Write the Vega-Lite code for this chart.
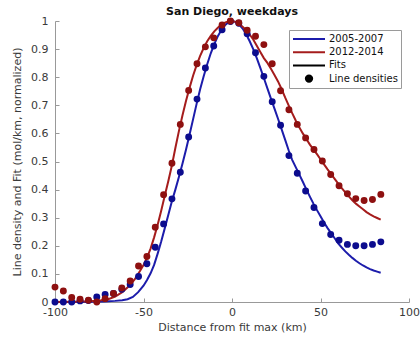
{
  "$schema": "https://vega.github.io/schema/vega-lite/v6.json",
  "width": 354,
  "height": 281,
  "autosize": "none",
  "padding": {"left": 55, "top": 21, "right": 11, "bottom": 38},
  "background": "white",
  "config": {
    "font": "DejaVu Sans",
    "view": {"stroke": null},
    "axis": {
      "grid": false,
      "domainColor": "#999999",
      "tickColor": "#999999",
      "tickSize": -4,
      "labelColor": "#3a3a3a",
      "titleColor": "#3a3a3a",
      "labelFontSize": 11,
      "titleFontSize": 11,
      "titleFontWeight": "normal",
      "labelFont": "DejaVu Sans",
      "titleFont": "DejaVu Sans",
      "labelFlush": false,
      "labelOverlap": false
    }
  },
  "title": {"text": "San Diego, weekdays", "fontSize": 11, "fontWeight": "bold", "color": "#111111", "font": "DejaVu Sans", "offset": -2},
  "datasets": {
    "fits": [
      {"series": "2005-2007", "km": -100, "value": 0},
      {"series": "2005-2007", "km": -90, "value": 0},
      {"series": "2005-2007", "km": -80, "value": 0.001},
      {"series": "2005-2007", "km": -72, "value": 0.002},
      {"series": "2005-2007", "km": -66, "value": 0.004},
      {"series": "2005-2007", "km": -62, "value": 0.006},
      {"series": "2005-2007", "km": -59, "value": 0.01},
      {"series": "2005-2007", "km": -56, "value": 0.018},
      {"series": "2005-2007", "km": -53, "value": 0.035},
      {"series": "2005-2007", "km": -50, "value": 0.058},
      {"series": "2005-2007", "km": -48, "value": 0.078},
      {"series": "2005-2007", "km": -46, "value": 0.102},
      {"series": "2005-2007", "km": -44, "value": 0.132},
      {"series": "2005-2007", "km": -42, "value": 0.172},
      {"series": "2005-2007", "km": -40, "value": 0.215},
      {"series": "2005-2007", "km": -38, "value": 0.262},
      {"series": "2005-2007", "km": -36, "value": 0.31},
      {"series": "2005-2007", "km": -34, "value": 0.358},
      {"series": "2005-2007", "km": -32, "value": 0.4},
      {"series": "2005-2007", "km": -30, "value": 0.445},
      {"series": "2005-2007", "km": -28, "value": 0.492},
      {"series": "2005-2007", "km": -26, "value": 0.542},
      {"series": "2005-2007", "km": -24, "value": 0.595},
      {"series": "2005-2007", "km": -22, "value": 0.65},
      {"series": "2005-2007", "km": -20, "value": 0.705},
      {"series": "2005-2007", "km": -18, "value": 0.757},
      {"series": "2005-2007", "km": -16, "value": 0.803},
      {"series": "2005-2007", "km": -14, "value": 0.846},
      {"series": "2005-2007", "km": -12, "value": 0.885},
      {"series": "2005-2007", "km": -10, "value": 0.918},
      {"series": "2005-2007", "km": -8, "value": 0.946},
      {"series": "2005-2007", "km": -6, "value": 0.968},
      {"series": "2005-2007", "km": -4, "value": 0.985},
      {"series": "2005-2007", "km": -2, "value": 0.996},
      {"series": "2005-2007", "km": 0, "value": 1.0},
      {"series": "2005-2007", "km": 2, "value": 0.997},
      {"series": "2005-2007", "km": 4, "value": 0.988},
      {"series": "2005-2007", "km": 6, "value": 0.973},
      {"series": "2005-2007", "km": 8, "value": 0.953},
      {"series": "2005-2007", "km": 10, "value": 0.928},
      {"series": "2005-2007", "km": 12, "value": 0.9},
      {"series": "2005-2007", "km": 14, "value": 0.868},
      {"series": "2005-2007", "km": 16, "value": 0.833},
      {"series": "2005-2007", "km": 18, "value": 0.797},
      {"series": "2005-2007", "km": 20, "value": 0.76},
      {"series": "2005-2007", "km": 22, "value": 0.724},
      {"series": "2005-2007", "km": 24, "value": 0.688},
      {"series": "2005-2007", "km": 26, "value": 0.652},
      {"series": "2005-2007", "km": 28, "value": 0.615},
      {"series": "2005-2007", "km": 30, "value": 0.578},
      {"series": "2005-2007", "km": 32, "value": 0.54},
      {"series": "2005-2007", "km": 34, "value": 0.506},
      {"series": "2005-2007", "km": 36, "value": 0.48},
      {"series": "2005-2007", "km": 38, "value": 0.454},
      {"series": "2005-2007", "km": 40, "value": 0.428},
      {"series": "2005-2007", "km": 42, "value": 0.401},
      {"series": "2005-2007", "km": 44, "value": 0.375},
      {"series": "2005-2007", "km": 46, "value": 0.35},
      {"series": "2005-2007", "km": 48, "value": 0.327},
      {"series": "2005-2007", "km": 50, "value": 0.305},
      {"series": "2005-2007", "km": 52, "value": 0.283},
      {"series": "2005-2007", "km": 54, "value": 0.263},
      {"series": "2005-2007", "km": 56, "value": 0.245},
      {"series": "2005-2007", "km": 58, "value": 0.227},
      {"series": "2005-2007", "km": 60, "value": 0.209},
      {"series": "2005-2007", "km": 62, "value": 0.194},
      {"series": "2005-2007", "km": 64, "value": 0.18},
      {"series": "2005-2007", "km": 66, "value": 0.168},
      {"series": "2005-2007", "km": 68, "value": 0.157},
      {"series": "2005-2007", "km": 70, "value": 0.147},
      {"series": "2005-2007", "km": 72, "value": 0.138},
      {"series": "2005-2007", "km": 74, "value": 0.13},
      {"series": "2005-2007", "km": 76, "value": 0.123},
      {"series": "2005-2007", "km": 78, "value": 0.117},
      {"series": "2005-2007", "km": 80, "value": 0.112},
      {"series": "2005-2007", "km": 82, "value": 0.108},
      {"series": "2005-2007", "km": 84, "value": 0.104},
      {"series": "2012-2014", "km": -100, "value": 0},
      {"series": "2012-2014", "km": -90, "value": 0.001},
      {"series": "2012-2014", "km": -80, "value": 0.003},
      {"series": "2012-2014", "km": -74, "value": 0.006},
      {"series": "2012-2014", "km": -70, "value": 0.01},
      {"series": "2012-2014", "km": -66, "value": 0.019},
      {"series": "2012-2014", "km": -62, "value": 0.035},
      {"series": "2012-2014", "km": -58, "value": 0.058},
      {"series": "2012-2014", "km": -55, "value": 0.08},
      {"series": "2012-2014", "km": -52, "value": 0.11},
      {"series": "2012-2014", "km": -50, "value": 0.132},
      {"series": "2012-2014", "km": -48, "value": 0.158},
      {"series": "2012-2014", "km": -46, "value": 0.19},
      {"series": "2012-2014", "km": -44, "value": 0.23},
      {"series": "2012-2014", "km": -42, "value": 0.275},
      {"series": "2012-2014", "km": -40, "value": 0.325},
      {"series": "2012-2014", "km": -38, "value": 0.378},
      {"series": "2012-2014", "km": -36, "value": 0.43},
      {"series": "2012-2014", "km": -34, "value": 0.485},
      {"series": "2012-2014", "km": -32, "value": 0.548},
      {"series": "2012-2014", "km": -30, "value": 0.608},
      {"series": "2012-2014", "km": -28, "value": 0.664},
      {"series": "2012-2014", "km": -26, "value": 0.715},
      {"series": "2012-2014", "km": -24, "value": 0.762},
      {"series": "2012-2014", "km": -22, "value": 0.805},
      {"series": "2012-2014", "km": -20, "value": 0.843},
      {"series": "2012-2014", "km": -18, "value": 0.876},
      {"series": "2012-2014", "km": -16, "value": 0.904},
      {"series": "2012-2014", "km": -14, "value": 0.928},
      {"series": "2012-2014", "km": -12, "value": 0.947},
      {"series": "2012-2014", "km": -10, "value": 0.963},
      {"series": "2012-2014", "km": -8, "value": 0.976},
      {"series": "2012-2014", "km": -6, "value": 0.987},
      {"series": "2012-2014", "km": -4, "value": 0.994},
      {"series": "2012-2014", "km": -2, "value": 0.999},
      {"series": "2012-2014", "km": 0, "value": 1.0},
      {"series": "2012-2014", "km": 2, "value": 0.997},
      {"series": "2012-2014", "km": 4, "value": 0.99},
      {"series": "2012-2014", "km": 6, "value": 0.98},
      {"series": "2012-2014", "km": 8, "value": 0.967},
      {"series": "2012-2014", "km": 10, "value": 0.952},
      {"series": "2012-2014", "km": 12, "value": 0.934},
      {"series": "2012-2014", "km": 14, "value": 0.912},
      {"series": "2012-2014", "km": 16, "value": 0.89},
      {"series": "2012-2014", "km": 18, "value": 0.868},
      {"series": "2012-2014", "km": 20, "value": 0.851},
      {"series": "2012-2014", "km": 22, "value": 0.83},
      {"series": "2012-2014", "km": 24, "value": 0.808},
      {"series": "2012-2014", "km": 26, "value": 0.785},
      {"series": "2012-2014", "km": 28, "value": 0.758},
      {"series": "2012-2014", "km": 30, "value": 0.728},
      {"series": "2012-2014", "km": 32, "value": 0.7},
      {"series": "2012-2014", "km": 34, "value": 0.672},
      {"series": "2012-2014", "km": 36, "value": 0.646},
      {"series": "2012-2014", "km": 38, "value": 0.622},
      {"series": "2012-2014", "km": 40, "value": 0.6},
      {"series": "2012-2014", "km": 42, "value": 0.58},
      {"series": "2012-2014", "km": 44, "value": 0.56},
      {"series": "2012-2014", "km": 46, "value": 0.543},
      {"series": "2012-2014", "km": 48, "value": 0.526},
      {"series": "2012-2014", "km": 50, "value": 0.508},
      {"series": "2012-2014", "km": 52, "value": 0.49},
      {"series": "2012-2014", "km": 54, "value": 0.472},
      {"series": "2012-2014", "km": 56, "value": 0.455},
      {"series": "2012-2014", "km": 58, "value": 0.438},
      {"series": "2012-2014", "km": 60, "value": 0.421},
      {"series": "2012-2014", "km": 62, "value": 0.405},
      {"series": "2012-2014", "km": 64, "value": 0.39},
      {"series": "2012-2014", "km": 66, "value": 0.376},
      {"series": "2012-2014", "km": 68, "value": 0.362},
      {"series": "2012-2014", "km": 70, "value": 0.35},
      {"series": "2012-2014", "km": 72, "value": 0.34},
      {"series": "2012-2014", "km": 74, "value": 0.33},
      {"series": "2012-2014", "km": 76, "value": 0.32},
      {"series": "2012-2014", "km": 78, "value": 0.312},
      {"series": "2012-2014", "km": 80, "value": 0.305},
      {"series": "2012-2014", "km": 82, "value": 0.299},
      {"series": "2012-2014", "km": 84, "value": 0.293}
    ],
    "dens": [
      {"series": "2005-2007", "km": -100, "value": 0},
      {"series": "2005-2007", "km": -95.28, "value": 0},
      {"series": "2005-2007", "km": -90.56, "value": 0},
      {"series": "2005-2007", "km": -85.84, "value": 0.004},
      {"series": "2005-2007", "km": -81.12, "value": 0.005},
      {"series": "2005-2007", "km": -76.4, "value": 0.018},
      {"series": "2005-2007", "km": -71.68, "value": 0.027},
      {"series": "2005-2007", "km": -66.96, "value": 0.03},
      {"series": "2005-2007", "km": -62.24, "value": 0.045},
      {"series": "2005-2007", "km": -57.52, "value": 0.062},
      {"series": "2005-2007", "km": -52.8, "value": 0.091},
      {"series": "2005-2007", "km": -48.08, "value": 0.136},
      {"series": "2005-2007", "km": -43.36, "value": 0.195},
      {"series": "2005-2007", "km": -38.64, "value": 0.278},
      {"series": "2005-2007", "km": -33.92, "value": 0.367},
      {"series": "2005-2007", "km": -29.2, "value": 0.462},
      {"series": "2005-2007", "km": -24.48, "value": 0.587},
      {"series": "2005-2007", "km": -19.76, "value": 0.722},
      {"series": "2005-2007", "km": -15.04, "value": 0.833},
      {"series": "2005-2007", "km": -10.32, "value": 0.911},
      {"series": "2005-2007", "km": -5.6, "value": 0.969},
      {"series": "2005-2007", "km": -0.88, "value": 0.998},
      {"series": "2005-2007", "km": 3.84, "value": 0.992},
      {"series": "2005-2007", "km": 8.56, "value": 0.955},
      {"series": "2005-2007", "km": 13.28, "value": 0.887},
      {"series": "2005-2007", "km": 18.0, "value": 0.803},
      {"series": "2005-2007", "km": 22.72, "value": 0.713},
      {"series": "2005-2007", "km": 27.44, "value": 0.629},
      {"series": "2005-2007", "km": 32.16, "value": 0.521},
      {"series": "2005-2007", "km": 36.88, "value": 0.458},
      {"series": "2005-2007", "km": 41.6, "value": 0.395},
      {"series": "2005-2007", "km": 46.32, "value": 0.336},
      {"series": "2005-2007", "km": 51.04, "value": 0.279},
      {"series": "2005-2007", "km": 55.76, "value": 0.24},
      {"series": "2005-2007", "km": 60.48, "value": 0.22},
      {"series": "2005-2007", "km": 65.2, "value": 0.205},
      {"series": "2005-2007", "km": 69.92, "value": 0.2},
      {"series": "2005-2007", "km": 74.64, "value": 0.2},
      {"series": "2005-2007", "km": 79.36, "value": 0.205},
      {"series": "2005-2007", "km": 84.08, "value": 0.214},
      {"series": "2012-2014", "km": -100, "value": 0.053},
      {"series": "2012-2014", "km": -95.28, "value": 0.039},
      {"series": "2012-2014", "km": -90.56, "value": 0.016},
      {"series": "2012-2014", "km": -85.84, "value": 0.01},
      {"series": "2012-2014", "km": -81.12, "value": 0.006},
      {"series": "2012-2014", "km": -76.4, "value": 0.0},
      {"series": "2012-2014", "km": -71.68, "value": 0.012},
      {"series": "2012-2014", "km": -66.96, "value": 0.03},
      {"series": "2012-2014", "km": -62.24, "value": 0.05},
      {"series": "2012-2014", "km": -57.52, "value": 0.075},
      {"series": "2012-2014", "km": -52.8, "value": 0.128},
      {"series": "2012-2014", "km": -48.08, "value": 0.162},
      {"series": "2012-2014", "km": -43.36, "value": 0.266},
      {"series": "2012-2014", "km": -38.64, "value": 0.382},
      {"series": "2012-2014", "km": -33.92, "value": 0.494},
      {"series": "2012-2014", "km": -29.2, "value": 0.632},
      {"series": "2012-2014", "km": -24.48, "value": 0.753},
      {"series": "2012-2014", "km": -19.76, "value": 0.848},
      {"series": "2012-2014", "km": -15.04, "value": 0.908},
      {"series": "2012-2014", "km": -10.32, "value": 0.94},
      {"series": "2012-2014", "km": -5.6, "value": 0.986},
      {"series": "2012-2014", "km": -0.88, "value": 1.0},
      {"series": "2012-2014", "km": 3.84, "value": 0.994},
      {"series": "2012-2014", "km": 8.56, "value": 0.967},
      {"series": "2012-2014", "km": 13.28, "value": 0.946},
      {"series": "2012-2014", "km": 18.0, "value": 0.916},
      {"series": "2012-2014", "km": 22.72, "value": 0.848},
      {"series": "2012-2014", "km": 27.44, "value": 0.752},
      {"series": "2012-2014", "km": 32.16, "value": 0.684},
      {"series": "2012-2014", "km": 36.88, "value": 0.632},
      {"series": "2012-2014", "km": 41.6, "value": 0.584},
      {"series": "2012-2014", "km": 46.32, "value": 0.543},
      {"series": "2012-2014", "km": 51.04, "value": 0.502},
      {"series": "2012-2014", "km": 55.76, "value": 0.454},
      {"series": "2012-2014", "km": 60.48, "value": 0.414},
      {"series": "2012-2014", "km": 65.2, "value": 0.385},
      {"series": "2012-2014", "km": 69.92, "value": 0.368},
      {"series": "2012-2014", "km": 74.64, "value": 0.361},
      {"series": "2012-2014", "km": 79.36, "value": 0.365},
      {"series": "2012-2014", "km": 84.08, "value": 0.383}
    ]
  },
  "layer": [
    {
      "data": {"name": "fits"},
      "mark": {"type": "line", "strokeWidth": 2},
      "encoding": {
        "x": {"field": "km", "type": "quantitative",
          "scale": {"domain": [-100, 100], "nice": false},
          "axis": {"values": [-100, -50, 0, 50, 100], "tickCount": 11, "title": "Distance from fit max (km)",
            "labelExpr": "datum.value < 0 ? '-' + abs(datum.value) : '' + datum.value",
            "labelPadding": 8, "titlePadding": 4, "labelOverlap": false, "labelFlush": false}},
        "y": {"field": "value", "type": "quantitative",
          "scale": {"domain": [0, 1], "nice": false},
          "axis": {"values": [0, 0.1, 0.2, 0.3, 0.4, 0.5, 0.6, 0.7, 0.8, 0.9, 1], "tickCount": 20,
            "labelExpr": "datum.value === 0 ? '0' : datum.value === 1 ? '1' : format(datum.value, '.1f')",
            "title": "Line density and Fit (mol/km, normalized)", "labelPadding": 11, "titlePadding": 8,
            "labelOverlap": false, "labelFlush": false, "labelBound": false}},
        "color": {"field": "series", "type": "nominal",
          "scale": {"domain": ["2005-2007", "2012-2014", "Fits", "Line densities"],
                    "range": ["#1c1cab", "#a51c1c", "#000000", "#000000"]},
          "legend": {
            "title": null,
            "orient": "none",
            "legendX": 234,
            "legendY": 9,
            "padding": 3,
            "strokeColor": "#9a9a9a",
            "fillColor": "white",
            "symbolType": "stroke",
            "symbolSize": 1024,
            "symbolStrokeWidth": 2,
            "clipHeight": 12,
            "rowPadding": 1.2,
            "labelFontSize": 10,
            "labelFont": "DejaVu Sans",
            "labelColor": "#111111",
            "labelOffset": 3,
            "labelLimit": 200,
            "encode": {
              "symbols": {
                "update": {
                  "shape": {"signal": "datum.value === 'Line densities' ? 'circle' : 'stroke'"},
                  "size": {"signal": "datum.value === 'Line densities' ? 40 : 1024"},
                  "fill": {"signal": "datum.value === 'Line densities' ? '#000000' : 'transparent'"},
                  "stroke": {"signal": "datum.value === 'Line densities' ? 'transparent' : scale('color', datum.value)"},
                  "strokeWidth": {"value": 2}
                }
              },
              "labels": {
                "update": {
                  "fontSize": {"value": 10},
                  "font": {"value": "DejaVu Sans"}
                }
              }
            }
          }
        }
      }
    },
    {
      "data": {"name": "dens"},
      "mark": {"type": "circle", "size": 48, "opacity": 1},
      "encoding": {
        "x": {"field": "km", "type": "quantitative"},
        "y": {"field": "value", "type": "quantitative"},
        "fill": {"field": "series", "type": "nominal",
          "scale": {"domain": ["2005-2007", "2012-2014"], "range": ["#0c0c8e", "#8e1010"]},
          "legend": null}
      }
    }
  ]
}
